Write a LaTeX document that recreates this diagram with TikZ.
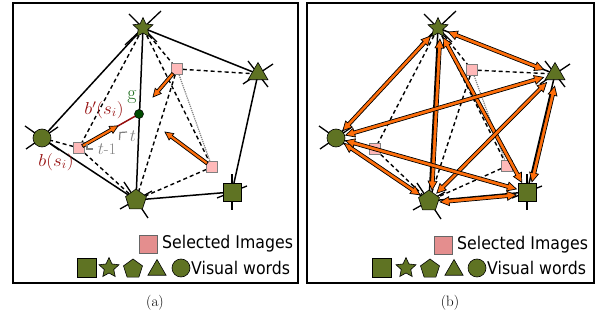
\documentclass[tikz,border=0pt]{standalone}
\usepackage{graphicx}
\usepackage{fontspec}
\newfontfamily\legfont[FakeStretch=0.9]{DejaVu Sans}
\usetikzlibrary{shapes.geometric,calc}
\definecolor{olivew}{RGB}{95,115,35}
\definecolor{pinkimg}{RGB}{255,185,185}
\definecolor{pinkleg}{RGB}{228,142,142}
\definecolor{orangea}{RGB}{255,110,10}
\definecolor{darkred}{RGB}{150,15,15}
\definecolor{ggreen}{RGB}{30,110,30}
\definecolor{gdot}{RGB}{0,75,0}
\pgfdeclarelayer{bg}
\pgfsetlayers{bg,main}
\def\arrHL{8pt}
\def\arrHW{4pt}
\def\arrSW{1.6pt}
\newcommand\dblarr[5]{%
  \coordinate (dc0) at ($(#1.center)!#3!(#2.center)$);
  \coordinate (dd0) at ($(#2.center)!#4!(#1.center)$);
  \coordinate (da0) at ($(dc0)!#5!90:(dd0)$);
  \coordinate (db0) at ($(dd0)!#5!-90:(dc0)$);
  \coordinate (dha) at ($(da0)!\arrHL!(db0)$);
  \coordinate (dhb) at ($(db0)!\arrHL!(da0)$);
  \filldraw[arrsty] (da0) -- ($(dha)!\arrHW!90:(db0)$) -- ($(dha)!\arrSW!90:(db0)$)
    -- ($(dhb)!\arrSW!-90:(da0)$) -- ($(dhb)!\arrHW!-90:(da0)$) -- (db0)
    -- ($(dhb)!\arrHW!90:(da0)$) -- ($(dhb)!\arrSW!90:(da0)$)
    -- ($(dha)!\arrSW!-90:(db0)$) -- ($(dha)!\arrHW!-90:(db0)$) -- cycle;
}
\newcommand\sglarr[2]{%
  \coordinate (sh) at ($(#2)!\arrHL!(#1)$);
  \filldraw[arrsty] ($(#1)!\arrSW!90:(#2)$) -- ($(sh)!\arrSW!90:(#2)$) -- ($(sh)!\arrHW!90:(#2)$)
    -- (#2) -- ($(sh)!\arrHW!-90:(#2)$) -- ($(sh)!\arrSW!-90:(#2)$) -- ($(#1)!\arrSW!-90:(#2)$) -- cycle;
}
\begin{document}
\begin{tikzpicture}[x=1pt,y=-1pt,
  vw/.style={fill=olivew, draw=black, line width=0.6pt, inner sep=0pt},
  vstar/.style={vw, star, star points=5, star point ratio=2.1, minimum size=21pt},
  vpent/.style={vw, regular polygon, regular polygon sides=5, minimum size=22pt},
  vtri/.style={vw, regular polygon, regular polygon sides=3, minimum size=23pt},
  vsq/.style={vw, rectangle, minimum size=18pt},
  vcirc/.style={vw, circle, minimum size=18pt},
  img/.style={fill=pinkimg, draw=gray, line width=0.5pt, minimum size=11pt, inner sep=0pt},
  legimg/.style={fill=pinkleg, draw=black!60, line width=0.6pt, minimum size=18pt, inner sep=0pt},
  gdotsty/.style={circle, fill=gdot, draw=black, line width=0.5pt, minimum size=9pt, inner sep=0pt},
  solidedge/.style={line width=1.5pt},
  dline/.style={line width=1.4pt, dash pattern=on 4pt off 3pt},
  dotl/.style={gray, line width=1.2pt, densely dotted},
  spoke/.style={line width=1.3pt},
  arrsty/.style={fill=orangea, draw=black, line width=0.7pt, line join=miter},
  legtext/.style={font=\legfont\fontsize{17.5}{20}\selectfont, inner sep=0pt, anchor=west},
  framebox/.style={line width=1.6pt},
  captext/.style={font=\fontsize{15}{17}\selectfont}
]
\useasboundingbox (0,0) rectangle (605,320);
\draw[framebox] (13,3) rectangle (298,283);
\draw[framebox] (307,3) rectangle (594,283);
\node[captext] (capa) at (155,303) {(a)};
\node[captext] (capb) at (450,303) {(b)};

% ---------- panel (a) ----------
\node[vstar] (aS) at (143,28) {};
\node[vtri] (aT) at (258,74) {};
\node[vcirc] (aC) at (42,138) {};
\node[vpent] (aP) at (136,200) {};
\node[vsq] (aQ) at (232,192) {};
\node[img] (aI1) at (79,148) {};
\node[img] (aI2) at (177,69) {};
\node[img] (aI3) at (212,167) {};
\node[gdotsty] (ag) at (139,114) {};
\begin{pgfonlayer}{bg}
  \draw[spoke] ($(aS)+(-14,-14)$) -- ($(aS)+(14,14)$);
  \draw[spoke] ($(aS)+(18,-17)$) -- ($(aS)+(-18,17)$);
  \draw[spoke] ($(aT)+(15,-10)$) -- ($(aT)+(-15,10)$);
  \draw[spoke] ($(aT)+(10,13)$) -- ($(aT)+(-10,-13)$);
  \draw[spoke] ($(aC)+(-17,-12)$) -- ($(aC)+(17,12)$);
  \draw[spoke] ($(aC)+(-16,11)$) -- ($(aC)+(16,-11)$);
  \draw[spoke] ($(aP)+(-16,9)$) -- ($(aP)+(16,-9)$);
  \draw[spoke] ($(aP)+(12,18)$) -- ($(aP)+(-12,-18)$);
  \draw[spoke] ($(aQ)+(15,-6)$) -- ($(aQ)+(-15,6)$);
  \draw[spoke] ($(aQ)+(0,18)$) -- ($(aQ)+(0,-18)$);
  \draw[solidedge] (aS.center) -- (aT.center);
  \draw[solidedge] (aS.center) -- (aC.center);
  \draw[solidedge] (aS.center) -- (aP.center);
  \draw[solidedge] (aT.center) -- (aQ.center);
  \draw[solidedge] (aC.center) -- (aP.center);
  \draw[solidedge] (aP.center) -- (aQ.center);
  \draw[dline] (aS) -- (aI1);
  \draw[dline] (aS) -- (aI2);
  \draw[dline] (aS) -- (aI3);
  \draw[dline] (aI2) -- (aT);
  \draw[dline] (aI2) -- (aP);
  \draw[dline] (aI3) -- (aP);
  \draw[dline] (aI1) -- (aC);
  \draw[dline] (aI1) -- (aP);
  \draw[dotl] (aI2) -- (aI3);
  \draw[darkred, line width=1.5pt] (aI1.center) -- (ag.center);
\end{pgfonlayer}
\coordinate (aA1s) at ($(aI1.center)!4pt!(ag.center)$);
\coordinate (aA1e) at ($(aI1.center)!0.65!(ag.center)$);
\sglarr{aA1s}{aA1e}
\coordinate (aA2e) at (153,97);
\coordinate (aA2s) at ($(aI2.center)!6pt!(aA2e)$);
\sglarr{aA2s}{aA2e}
\coordinate (aA3e) at (165,132);
\coordinate (aA3s) at ($(aI3.center)!6pt!(aA3e)$);
\sglarr{aA3s}{aA3e}
\node[text=ggreen, font=\fontsize{20}{22}\selectfont] (glab) at (132,97) {g};
\node[text=darkred, font=\fontsize{18}{20}\selectfont] (lbp) at (104,110) {\scalebox{1.1}[1]{$b'(s_i)$}};
\node[text=darkred, font=\fontsize{18}{20}\selectfont] (lb) at (56,162) {\scalebox{1.1}[1]{$b(s_i)$}};
\draw[gray, line width=1.2pt] (87,144.5) -- (87,149) -- (93,149);
\node[text=gray, font=\fontsize{16}{18}\selectfont] (ltm) at (107,149) {$t$-1};
\draw[gray, line width=1.2pt] (119.5,140) -- (120,132.5) -- (127,132);
\node[text=gray, font=\fontsize{16}{18}\selectfont] (lt) at (133,136) {$t$};
% legend (a)
\node[legimg] (aLi) at (148,244) {};
\node[legtext] (aLit) at (162,244) {Selected Images};
\node[vsq, minimum size=19pt] (aL1) at (87,268) {};
\node[vstar] (aL2) at (109,268) {};
\node[vpent, minimum size=20pt] (aL3) at (133,269) {};
\node[vtri, minimum size=21pt] (aL4) at (157,270) {};
\node[vcirc] (aL5) at (181,268) {};
\node[legtext] (aL5t) at (191,268) {Visual words};

% ---------- panel (b) ----------
\node[vstar] (bS) at (438,28) {};
\node[vtri] (bT) at (555,74) {};
\node[vcirc] (bC) at (336,138) {};
\node[vpent] (bP) at (429,201) {};
\node[vsq] (bQ) at (527,192) {};
\node[img] (bI1) at (375,149) {};
\node[img] (bI2) at (472,70) {};
\node[img] (bI3) at (507,166) {};
\begin{pgfonlayer}{bg}
  \draw[spoke] ($(bS)+(-14,-14)$) -- ($(bS)+(14,14)$);
  \draw[spoke] ($(bS)+(18,-17)$) -- ($(bS)+(-18,17)$);
  \draw[spoke] ($(bT)+(15,-10)$) -- ($(bT)+(-15,10)$);
  \draw[spoke] ($(bT)+(10,13)$) -- ($(bT)+(-10,-13)$);
  \draw[spoke] ($(bC)+(-17,-12)$) -- ($(bC)+(17,12)$);
  \draw[spoke] ($(bC)+(-16,11)$) -- ($(bC)+(16,-11)$);
  \draw[spoke] ($(bP)+(-16,9)$) -- ($(bP)+(16,-9)$);
  \draw[spoke] ($(bP)+(12,18)$) -- ($(bP)+(-12,-18)$);
  \draw[spoke] ($(bQ)+(15,-6)$) -- ($(bQ)+(-15,6)$);
  \draw[spoke] ($(bQ)+(0,18)$) -- ($(bQ)+(0,-18)$);
  \draw[solidedge] (bS.center) -- (bT.center);
  \draw[solidedge] (bS.center) -- (bC.center);
  \draw[solidedge] (bS.center) -- (bP.center);
  \draw[solidedge] (bT.center) -- (bQ.center);
  \draw[solidedge] (bC.center) -- (bP.center);
  \draw[solidedge] (bP.center) -- (bQ.center);
  \draw[dline] (bS) -- (bI1);
  \draw[dline] (bS) -- (bI2);
  \draw[dline] (bS) -- (bI3);
  \draw[dline] (bI2) -- (bT);
  \draw[dline] (bI2) -- (bP);
  \draw[dline] (bI3) -- (bP);
  \draw[dline] (bI1) -- (bC);
  \draw[dline] (bI1) -- (bP);
  \draw[dotl] (bI2) -- (bI3);
\end{pgfonlayer}
\def\arrHL{9pt}
\def\arrHW{4.5pt}
\def\arrSW{1.8pt}
\dblarr{bS}{bT}{11pt}{12pt}{0pt}
\dblarr{bS}{bC}{11pt}{10pt}{0pt}
\dblarr{bS}{bP}{11pt}{11pt}{2.5pt}
\dblarr{bS}{bQ}{11pt}{11pt}{0pt}
\dblarr{bT}{bC}{12pt}{10pt}{0pt}
\dblarr{bT}{bP}{12pt}{11pt}{0pt}
\dblarr{bT}{bQ}{12pt}{11pt}{2.5pt}
\dblarr{bC}{bP}{10pt}{11pt}{0pt}
\dblarr{bC}{bQ}{10pt}{11pt}{0pt}
\dblarr{bP}{bQ}{11pt}{11pt}{-2pt}
% legend (b)
\node[legimg] (bLi) at (443,245) {};
\node[legtext] (bLit) at (457,245) {Selected Images};
\node[vsq, minimum size=19pt] (bL1) at (382,268) {};
\node[vstar] (bL2) at (406,268) {};
\node[vpent, minimum size=20pt] (bL3) at (430,269) {};
\node[vtri, minimum size=21pt] (bL4) at (454,270) {};
\node[vcirc] (bL5) at (477,268) {};
\node[legtext] (bL5t) at (487,268) {Visual words};
\end{tikzpicture}
\end{document}
